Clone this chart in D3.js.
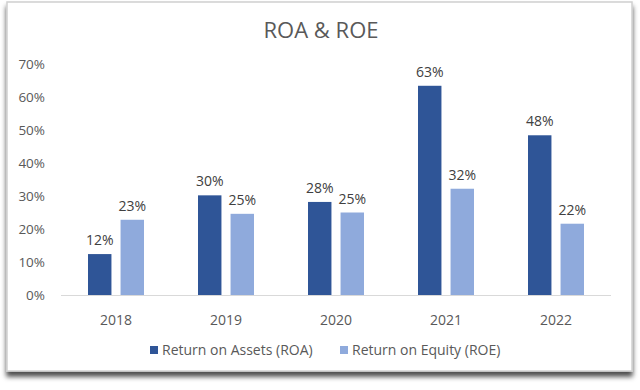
<!DOCTYPE html>
<html><head><meta charset="utf-8">
<script src="https://cdn.jsdelivr.net/npm/d3@7"></script>
<style>body{margin:0;background:#fff}text{font-family:"Open Sans",sans-serif}</style>
</head><body>
<svg id="c" width="640" height="390"></svg>
<script>
const years = ["2018","2019","2020","2021","2022"];
const roa = [0.124, 0.302, 0.282, 0.634, 0.484];
const roe = [0.228, 0.246, 0.250, 0.322, 0.216];
const seriesNames = ["Return on Assets (ROA)", "Return on Equity (ROE)"];
const colors = ["#2f5597", "#8faadc"];
const yTicks = [0, 0.1, 0.2, 0.3, 0.4, 0.5, 0.6, 0.7];

const svg = d3.select("#c");
const defs = svg.append("defs");
const f = defs.append("filter").attr("id","sh").attr("x","-5%").attr("y","-5%").attr("width","110%").attr("height","115%");
f.append("feDropShadow").attr("dx",0).attr("dy",5).attr("stdDeviation",2.5).attr("flood-color","#000").attr("flood-opacity",0.7);
svg.append("rect").attr("x",7).attr("y",2).attr("width",625).attr("height",369)
  .attr("fill","#fff").attr("stroke","#d0d0d0").attr("stroke-width",1.5).attr("filter","url(#sh)");

const x = d3.scaleBand().domain(years).range([61, 611]);
const y = d3.scaleLinear().domain([0, 0.7]).range([295, 64]);
const inner = d3.scaleBand().domain([0,1]).range([0, 56]).paddingInner(0.28);
const off = (x.bandwidth() - 56) / 2;

svg.append("text").attr("x",321).attr("y",38).attr("text-anchor","middle")
  .attr("font-size",22).attr("fill","#595959").text("ROA & ROE");

const fmt = d3.format(".0%");
svg.append("g").selectAll("text").data(yTicks).join("text")
  .attr("x",45).attr("y",d=>y(d)+5).attr("text-anchor","end")
  .attr("font-size",13.5).attr("fill","#595959").text(fmt);

svg.append("line").attr("x1",61).attr("x2",611).attr("y1",y(0)+0.5).attr("y2",y(0)+0.5)
  .attr("stroke","#d9d9d9").attr("stroke-width",1);

const data = years.map((yr,i)=>[{yr,s:0,v:roa[i]},{yr,s:1,v:roe[i]}]).flat();
svg.append("g").selectAll("rect").data(data).join("rect")
  .attr("x",d=>x(d.yr)+off+inner(d.s)).attr("width",inner.bandwidth())
  .attr("y",d=>y(d.v)).attr("height",d=>y(0)-y(d.v)).attr("fill",d=>colors[d.s]);
svg.append("g").selectAll("text").data(data).join("text")
  .attr("x",d=>x(d.yr)+off+inner(d.s)+inner.bandwidth()/2).attr("y",d=>y(d.v)-9)
  .attr("text-anchor","middle").attr("font-size",14).attr("fill","#404040")
  .text(d=>fmt(d.v));

svg.append("g").selectAll("text").data(years).join("text")
  .attr("x",d=>x(d)+x.bandwidth()/2).attr("y",325).attr("text-anchor","middle")
  .attr("font-size",14).attr("fill","#595959").text(d=>d);

const lx = [150, 340];
const lg = svg.append("g").selectAll("g").data(seriesNames).join("g")
  .attr("transform",(d,i)=>`translate(${lx[i]},351)`);
lg.append("rect").attr("x",0).attr("y",-5).attr("width",8).attr("height",8).attr("fill",(d,i)=>colors[i]);
lg.append("text").attr("x",12).attr("y",4).attr("font-size",14).attr("fill","#595959").text(d=>d);
</script>
</body></html>
